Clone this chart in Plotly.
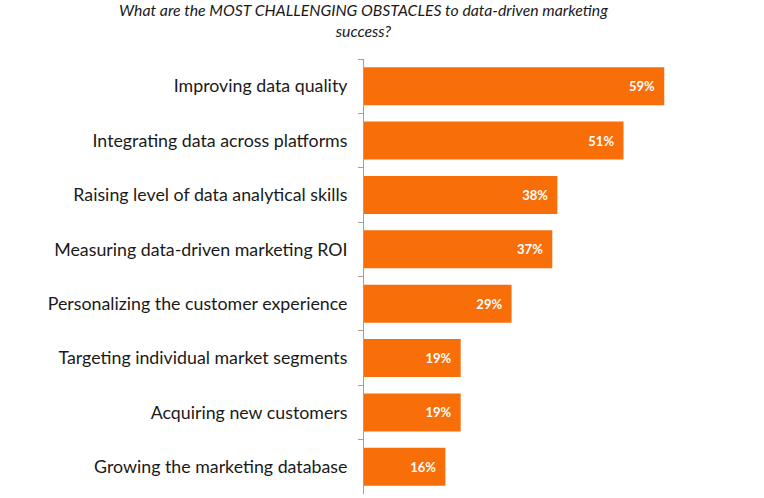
import plotly.graph_objects as go

categories = [
    "Improving data quality",
    "Integrating data across platforms",
    "Raising level of data analytical skills",
    "Measuring data-driven marketing ROI",
    "Personalizing the customer experience",
    "Targeting individual market segments",
    "Acquiring new customers",
    "Growing the marketing database",
]
values = [59, 51, 38, 37, 29, 19, 19, 16]
labels = [f"{v}%\u2002" for v in values]
title_text = "<i>What are the MOST CHALLENGING OBSTACLES to data-driven marketing<br>success?</i>"

fig = go.Figure(
    go.Bar(
        x=values,
        y=categories,
        orientation="h",
        marker=dict(color="#F86E08", line=dict(width=0)),
        width=0.7,
        text=labels,
        textposition="inside",
        insidetextanchor="end",
        textfont=dict(family="Lato", size=13, color="white", weight="bold"),
        cliponaxis=False,
    )
)

fig.update_layout(
    width=764,
    height=498,
    margin=dict(l=364, r=0, t=59, b=4),
    paper_bgcolor="white",
    plot_bgcolor="white",
    showlegend=False,
    annotations=[
        dict(
            text=title_text,
            xref="paper",
            yref="paper",
            x=-0.0025,
            y=1,
            xanchor="center",
            yanchor="bottom",
            yshift=17,
            showarrow=False,
            align="center",
            font=dict(family="Lato", size=15.8, color="#1a1a1a"),
        )
    ],
)
fig.update_xaxes(range=[0, 78.6], visible=False)
fig.update_yaxes(
    autorange="reversed",
    showline=True,
    linecolor="#a0a0a0",
    linewidth=1,
    ticks="outside",
    tickson="boundaries",
    ticklen=5,
    tickcolor="#a0a0a0",
    ticklabelstandoff=12,
    tickfont=dict(family="Lato", size=17.8, color="#1a1a1a"),
    showgrid=False,
)

fig.write_html("out.html")
